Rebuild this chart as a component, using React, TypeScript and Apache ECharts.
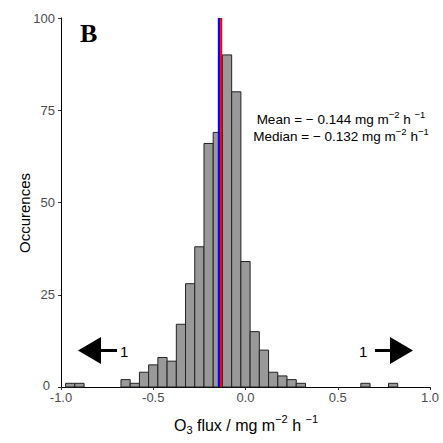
import React, { useEffect, useRef } from "react";
import * as echarts from "echarts";

// Histogram bins (centre of bin, bin width 0.05) and counts
const binCenters = [-0.95, -0.9, -0.65, -0.6, -0.55, -0.5, -0.45, -0.4, -0.35, -0.3, -0.25, -0.2, -0.15, -0.1, -0.05, 0.0, 0.05, 0.1, 0.15, 0.2, 0.25, 0.3, 0.65, 0.8];
const counts = [1, 1, 2, 1, 4, 6, 8, 7, 17, 28, 38, 66, 69, 90, 80, 34, 15, 10, 4, 3, 2, 1, 1, 1];
const binWidth = 0.05;
const meanValue = -0.144;
const medianValue = -0.132;
const yTicks = [0, 25, 50, 75, 100];
const xTicks = [-1.0, -0.5, 0.0, 0.5, 1.0];

const SANS = "'Liberation Sans', Arial, sans-serif";

export default function App() {
  const ref = useRef<HTMLDivElement>(null);
  useEffect(() => {
    document.body.style.margin = "0";
    if (!ref.current) return;
    const chart = echarts.init(ref.current, undefined, { renderer: "svg" });
    const data = binCenters.map((c, i) => [c, counts[i]]);
    const n = { fontSize: 13.5, fontFamily: SANS, color: "#000" };
    const s = { fontSize: 9.5, fontFamily: SANS, color: "#000", padding: [0, 0, 10, 0] };
    const t = { fontSize: 16, fontFamily: SANS, color: "#000" };
    const tsup = { fontSize: 11, fontFamily: SANS, color: "#000", padding: [0, 0, 12, 0] };
    const tsub = { fontSize: 11, fontFamily: SANS, color: "#000", padding: [10, 0, 0, 0] };
    chart.setOption({
      animation: false,
      grid: { left: 61, right: 13, top: 18, bottom: 56, containLabel: false },
      xAxis: {
        type: "value",
        min: xTicks[0],
        max: xTicks[xTicks.length - 1],
        interval: 0.5,
        axisLine: { onZero: false, lineStyle: { color: "#000", width: 1 } },
        axisTick: { show: true, length: 3, lineStyle: { color: "#333" } },
        splitLine: { show: false },
        axisLabel: {
          formatter: (v: number) => v.toFixed(1),
          color: "#4D4D4D",
          fontSize: 13,
          lineHeight: 10,
          fontFamily: SANS,
          margin: 5,
        },
      },
      yAxis: {
        type: "value",
        min: yTicks[0],
        max: yTicks[yTicks.length - 1],
        interval: 25,
        axisLine: { show: true, onZero: false, lineStyle: { color: "#000", width: 1 } },
        axisTick: { show: true, length: 3, lineStyle: { color: "#333" } },
        splitLine: { show: false },
        axisLabel: {
          color: "#4D4D4D",
          fontSize: 13,
          lineHeight: 10,
          fontFamily: SANS,
          margin: 6,
          formatter: (v: number) => (v === 0 ? "{z|0}" : String(v)),
          rich: { z: { color: "#4D4D4D", fontSize: 13, fontFamily: SANS, padding: [0, 5, 3, 0] } },
        },
      },
      series: [
        {
          type: "custom",
          data,
          renderItem: (params: any, api: any) => {
            const x = api.value(0);
            const y = api.value(1);
            const p0 = api.coord([x - binWidth / 2, y]);
            const p1 = api.coord([x + binWidth / 2, 0]);
            return {
              type: "rect",
              shape: { x: p0[0], y: p0[1], width: p1[0] - p0[0], height: p1[1] - p0[1] },
              style: { fill: "#999999", stroke: "#222222", lineWidth: 1 },
            };
          },
        },
        {
          type: "line",
          data: [[meanValue, 0], [meanValue, 100]],
          showSymbol: false,
          symbol: "none",
          lineStyle: { color: "#0000FF", width: 2.2 },
        },
        {
          type: "line",
          data: [[medianValue, 0], [medianValue, 100]],
          showSymbol: false,
          symbol: "none",
          lineStyle: { color: "#FF0000", width: 2.2 },
        },
      ],
      graphic: [
        {
          type: "text",
          left: 80,
          top: 20,
          style: { text: "B", font: "bold 26px 'Liberation Serif', 'Times New Roman', serif", fill: "#000" },
        },
        {
          type: "text",
          x: 341,
          y: 119,
          style: {
            text: "{n|Mean = − 0.144 mg m}{s|−2}{n| h }{s|−1}",
            align: "center",
            verticalAlign: "middle",
            rich: { n, s },
          },
        },
        {
          type: "text",
          x: 341,
          y: 136,
          style: {
            text: "{n|Median = − 0.132 mg m}{s|−2}{n| h}{s|−1}",
            align: "center",
            verticalAlign: "middle",
            rich: { n, s },
          },
        },
        {
          type: "text",
          x: 24,
          y: 213,
          rotation: Math.PI / 2,
          style: {
            text: "Occurences",
            align: "center",
            verticalAlign: "middle",
            fontSize: 15,
            fontFamily: SANS,
            fill: "#000",
          },
        },
        {
          type: "text",
          x: 246,
          y: 425,
          style: {
            text: "{t|O}{b|3}{t| flux / mg m}{p|−2}{t| h }{p|−1}",
            align: "center",
            verticalAlign: "middle",
            rich: { t, b: tsub, p: tsup },
          },
        },
        {
          type: "polygon",
          shape: {
            points: [[78, 350.5], [101, 337], [101, 349], [117, 349], [117, 352], [101, 352], [101, 364]],
          },
          style: { fill: "#000" },
        },
        {
          type: "text",
          x: 120,
          y: 351,
          style: { text: "1", fontSize: 15, fontFamily: SANS, fill: "#000", verticalAlign: "middle" },
        },
        {
          type: "polygon",
          shape: {
            points: [[413, 350.5], [390, 337], [390, 349], [375, 349], [375, 352], [390, 352], [390, 364]],
          },
          style: { fill: "#000" },
        },
        {
          type: "text",
          x: 359,
          y: 351,
          style: { text: "1", fontSize: 15, fontFamily: SANS, fill: "#000", verticalAlign: "middle" },
        },
      ],
    });
    return () => chart.dispose();
  }, []);
  return <div ref={ref} style={{ width: 443, height: 443 }} />;
}
